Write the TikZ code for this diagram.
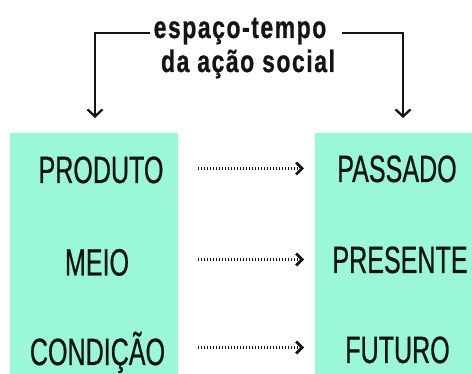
\documentclass[tikz,border=0pt]{standalone}
\usepackage{fontspec}
\usetikzlibrary{arrows.meta}
\newfontfamily\labfont{Liberation Sans}[FakeStretch=0.66,FakeBold=0.6]
\newfontfamily\ttlfont{Liberation Sans}[FakeStretch=0.74,LetterSpace=5,FakeBold=0.8]
\definecolor{mint}{RGB}{154,248,216}
\definecolor{ink}{RGB}{20,20,20}
\tikzset{
  panel/.style={fill=mint,draw=none},
  lab/.style={inner sep=0pt,text height=27pt,text depth=0pt,text=ink,font=\labfont\fontsize{38}{40}\selectfont},
  ttl/.style={inner sep=0pt,text height=10pt,text depth=0pt,text=ink,font=\ttlfont\bfseries\fontsize{31}{33}\selectfont},
  bracket/.style={draw=ink,line width=2.3pt,-{Straight Barb[length=7pt,width=15pt,line width=2.3pt]}},
  dotarrow/.style={draw=ink,line width=2.2pt,dash pattern=on 1.4pt off 1.6pt,-{Straight Barb[length=6pt,width=12pt,line width=2.8pt]}}
}
\begin{document}
\begin{tikzpicture}[x=1pt,y=-1pt]
\useasboundingbox (0,0) rectangle (472,374);
\fill[white] (0,0) rectangle (472,374);
% panels
\path[panel] (10,133) rectangle (178,374);
\path[panel] (315,133) rectangle (472,374);
% title
\node[ttl] (t1) at (240,33) {espaço-tempo};
\node[ttl] (t2) at (248,67) {da ação social};
\coordinate (la) at (95,118);
\coordinate (ra) at (403,118);
\draw[bracket] ([xshift=-4pt]t1.west) -| (la);
\draw[bracket] ([xshift=16pt]t1.east) -| (ra);
% labels
\node[lab] (p1) at (101,169.5) {PRODUTO};
\node[lab] (p2) at (97,262) {MEIO};
\node[lab] (p3) at (97.5,351.5) {CONDIÇÃO};
\node[lab] (q1) at (397,168.5) {PASSADO};
\node[lab] (q2) at (400,259.5) {PRESENTE};
\node[lab] (q3) at (397.5,349.5) {FUTURO};
% arrows
\coordinate (ax) at (198,0);
\coordinate (bx) at (304,0);
\draw[dotarrow] ([yshift=1pt]p1.center -| ax) -- ([yshift=1pt]p1.center -| bx);
\draw[dotarrow] ([yshift=2.5pt]p2.center -| ax) -- ([yshift=2.5pt]p2.center -| bx);
\draw[dotarrow] ([yshift=4pt]p3.center -| ax) -- ([yshift=4pt]p3.center -| bx);
\end{tikzpicture}
\end{document}
